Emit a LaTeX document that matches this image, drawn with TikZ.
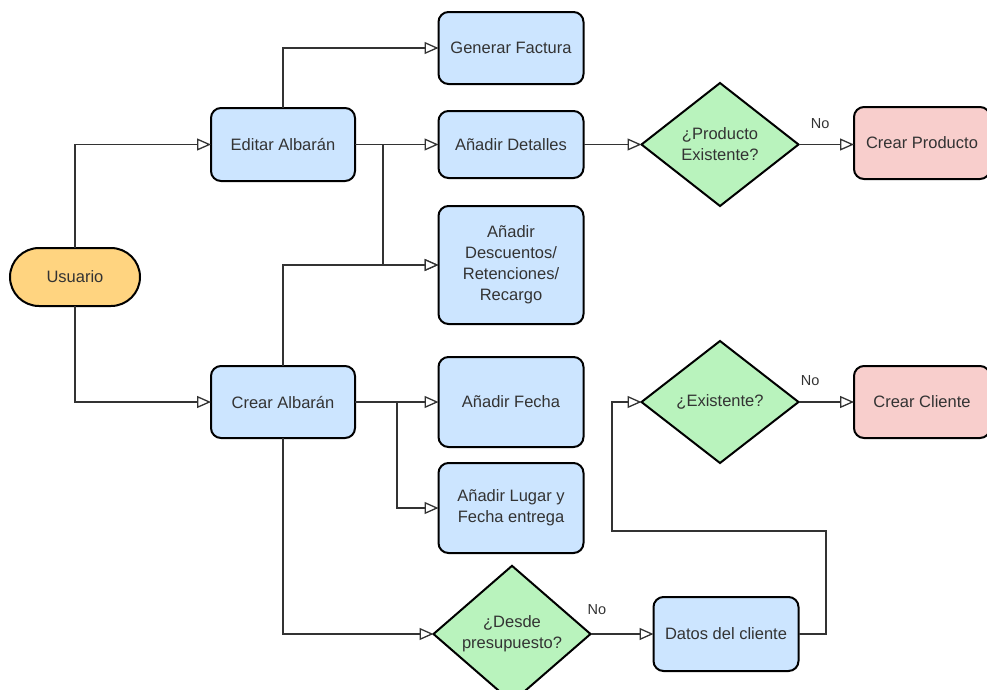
\documentclass[tikz,border=0pt]{standalone}
\usepackage{fontspec}
\setmainfont{Liberation Sans}
\usetikzlibrary{arrows.meta,shapes.geometric}
\definecolor{boxblue}{HTML}{CCE5FF}
\definecolor{boxgreen}{HTML}{B9F3BD}
\definecolor{boxpink}{HTML}{F8CECC}
\definecolor{boxorange}{HTML}{FFD480}
\definecolor{ink}{HTML}{333333}
\definecolor{wire}{HTML}{333333}

\begin{document}
\begin{tikzpicture}[x=1pt,y=-1pt,
  font=\fontsize{16.5}{21}\selectfont,
  base/.style={draw=black, line width=2pt, text=ink, align=center, inner sep=2pt, outer sep=0pt},
  task/.style={base, rectangle, rounded corners=10pt, fill=boxblue, minimum width=145pt, minimum height=72pt},
  alert/.style={task, fill=boxpink, minimum width=136pt},
  decision/.style={base, diamond, fill=boxgreen, minimum width=157pt, minimum height=122pt, inner sep=0pt},
  terminal/.style={base, rectangle, rounded corners=29pt, fill=boxorange, minimum width=130pt, minimum height=58pt},
  conn/.style={draw=wire, line width=1.3pt, -{Triangle[length=14pt,width=12pt,fill=white]}},
  lbl/.style={font=\fontsize{14.5}{17}\selectfont, text=ink}
]
\useasboundingbox (0,0) rectangle (987,689);
\clip (0,0) rectangle (987,689);

% nodes
\node[terminal] (usr) at (75,277) {Usuario};
\node[task, minimum width=144pt, minimum height=73pt] (edit) at (283,144.5) {Editar Albarán};
\node[task, minimum width=144pt] (crear) at (283,402) {Crear Albarán};

\node[task] (gen) at (511,48) {Generar Factura};
\node[task, minimum height=67pt] (det) at (511,144.5) {Añadir Detalles};
\node[task, minimum height=118pt] (desc) at (511,265) {Añadir\\Descuentos/\\Retenciones/\\Recargo};
\node[task, minimum height=90pt] (fecha) at (511,402) {Añadir Fecha};
\node[task, minimum height=90pt] (lugar) at (511,508) {Añadir Lugar y\\Fecha entrega};
\node[decision] (desde) at (512,634) {¿Desde\\presupuesto?};

\node[decision, minimum height=123pt] (prod) at (720,144.5) {¿Producto\\Existente?};
\node[decision] (exist) at (720,402) {¿Existente?};
\node[task, minimum height=74pt] (datos) at (726,634) {Datos del cliente};

\node[alert] (crprod) at (922,143) {Crear Producto};
\node[alert] (crcli) at (922,402) {Crear Cliente};

% junction and bend points
\coordinate (j1) at (383,144.5);
\coordinate (j2) at (397,402);
\coordinate (b1) at (826,531);
\coordinate (b2) at (612,531);

% connectors
\draw[conn] (usr.north) |- (edit.west);
\draw[conn] (usr.south) |- (crear.west);
\draw[conn] (edit.north) |- (gen.west);
\draw[conn] (edit.east) -- (det.west);
\draw[conn] (j1) |- (desc.west);
\draw[conn] (crear.north) |- (desc.west);
\draw[conn] (crear.east) -- (fecha.west);
\draw[conn] (j2) |- (lugar.west);
\draw[conn] (crear.south) |- (desde.west);
\draw[conn] (desde.east) -- node[lbl, pos=0.1, yshift=24pt] (no3) {No} (datos.west);
\draw[conn] (det.east) -- (prod.west);
\draw[conn] (prod.east) -- node[lbl, pos=0.39, yshift=21pt] (no1) {No} (prod.east -| crprod.west);
\draw[conn] (exist.east) -- node[lbl, pos=0.21, yshift=21pt] (no2) {No} (crcli.west);
\draw[conn] (datos.east) -| (b1) -- (b2) |- (exist.west);
\end{tikzpicture}
\end{document}
